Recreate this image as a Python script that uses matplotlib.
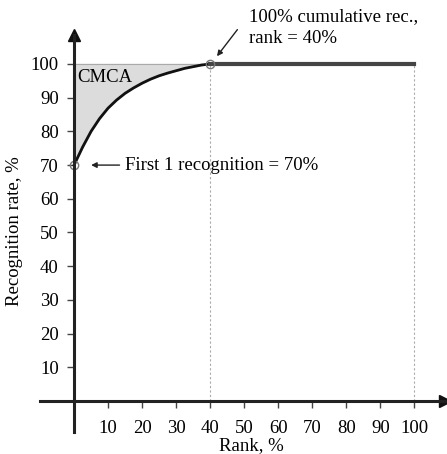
import numpy as np
import matplotlib
matplotlib.use("Agg")
import matplotlib.pyplot as plt

plt.rcParams['font.family'] = ['Liberation Serif', 'DejaVu Serif']
plt.rcParams['font.size'] = 13.5

# curve
rank = [0, 2.5, 5, 7.5, 10, 12.5, 15, 17.5, 20, 22.5, 25, 27.5, 30, 32.5, 35, 37.5, 40]
rate = [70, 75.3, 80.0, 83.8, 86.9, 89.3, 91.3, 92.9, 94.3, 95.5, 96.5, 97.3, 98.0, 98.7, 99.2, 99.7, 100]
flat_rank = [40, 100]
flat_rate = [100, 100]
xticks = [10, 20, 30, 40, 50, 60, 70, 80, 90, 100]
yticks = [10, 20, 30, 40, 50, 60, 70, 80, 90, 100]

fig = plt.figure(figsize=(4.47, 4.54), dpi=100)
ax = fig.add_axes([40 / 447, 22 / 454, 405 / 447, 397 / 454])
ax.set_xlim(-10, 109)
ax.set_ylim(-9.2, 108.6)

for s in ['top', 'right']:
    ax.spines[s].set_visible(False)
ax.spines['left'].set_position(('data', 0))
ax.spines['bottom'].set_position(('data', 0))
ax.spines['left'].set_linewidth(2.2)
ax.spines['bottom'].set_linewidth(2.2)
ax.spines['left'].set_color('#222222')
ax.spines['bottom'].set_color('#222222')
ax.plot(1, 0, '>', color='#111111', ms=9, transform=ax.get_yaxis_transform(), clip_on=False)
ax.plot(0, 1, '^', color='#111111', ms=9, transform=ax.get_xaxis_transform(), clip_on=False)

ax.set_xticks(xticks)
ax.set_yticks(yticks)
ax.tick_params(axis='both', direction='out', length=5, width=1, color='#444444', pad=6)
ax.tick_params(axis='x', pad=9)

# guide lines
ax.vlines([40, 100], 0, 100, colors='#aaaaaa', linestyles=(0, (2, 2)), linewidth=0.8)
ax.hlines(100, 0, 40, colors='#aaaaaa', linewidth=0.8)

ax.fill_between(rank, rate, 100, color='#dcdcdc')
ax.plot(rank, rate, color='#111111', linewidth=2)
ax.plot(flat_rank, flat_rate, color='#444444', linewidth=3)
ax.plot([0, 40], [70, 100], 'o', mfc='none', mec='#777777', ms=6, mew=1)

ax.text(0.8, 96, 'CMCA', va='center')
ax.annotate('First 1 recognition = 70%', xy=(4.2, 70), xytext=(15, 70),
            va='center', ha='left',
            arrowprops=dict(arrowstyle='-|>', color='#222222', lw=1, mutation_scale=8))
ax.text(51.5, 110.8, '100% cumulative rec.,\nrank = 40%', va='center', ha='left',
        linespacing=1.35, clip_on=False)
ax.annotate('', xy=(42, 102.3), xytext=(48, 110.2), annotation_clip=False,
            arrowprops=dict(arrowstyle='-|>', color='#222222', lw=1, mutation_scale=8,
                            shrinkA=0, shrinkB=0))

ax.text(52, -13.2, 'Rank, %', ha='center', va='center', clip_on=False)
ax.text(-17.5, 50.5, 'Recognition rate, %', ha='center', va='center', rotation=90, clip_on=False)

fig.savefig('out.png', dpi=100)
